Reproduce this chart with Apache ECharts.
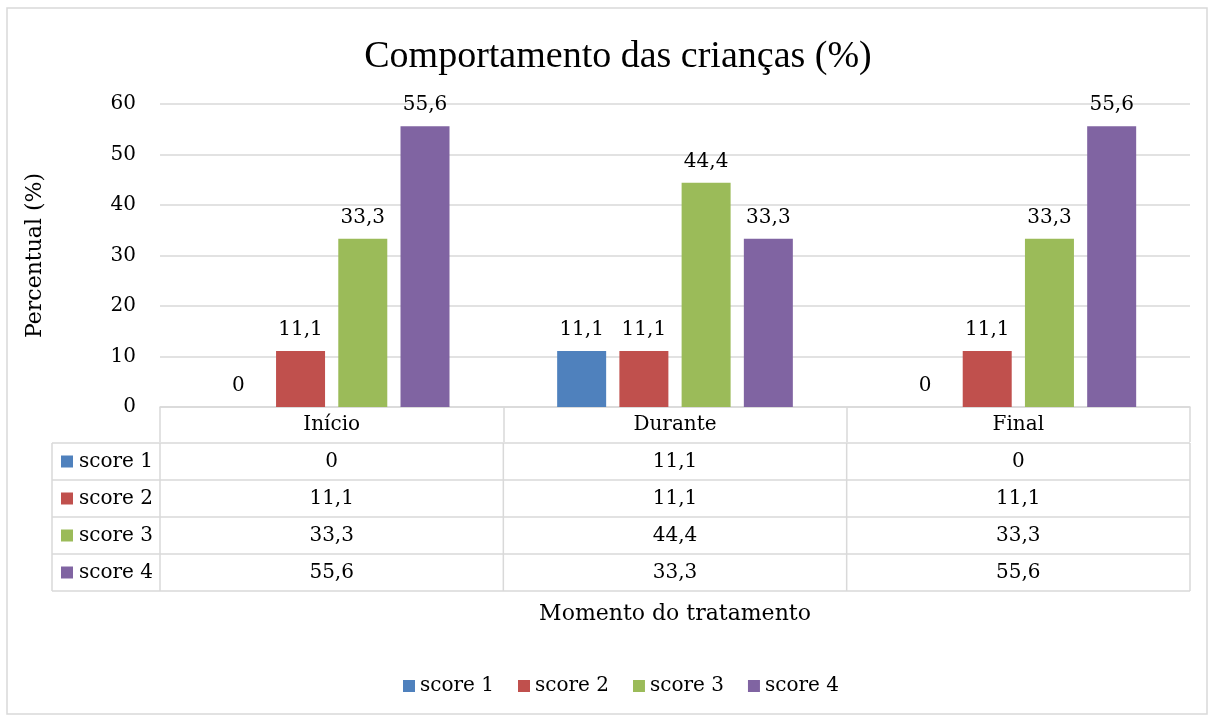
<!DOCTYPE html>
<html>
<head>
<meta charset="utf-8">
<script src="https://cdn.jsdelivr.net/npm/echarts@6/dist/echarts.min.js"></script>
<style>html,body{margin:0;padding:0;background:#fff}#c{width:1214px;height:715px}</style>
</head>
<body>
<div id="c"></div>
<script>
const categories = ['Início', 'Durante', 'Final'];
const seriesNames = ['score 1', 'score 2', 'score 3', 'score 4'];
const score1 = [0, 11.1, 0];
const score2 = [11.1, 11.1, 11.1];
const score3 = [33.3, 44.4, 33.3];
const score4 = [55.6, 33.3, 55.6];
const yTicks = [0, 10, 20, 30, 40, 50, 60];
const colors = ['#4f81bd', '#c0504d', '#9bbb59', '#8064a2'];

const seriesData = [score1, score2, score3, score4];
const FONT = 'DejaVu Serif';
const GRID = '#d9d9d9';
const fmt = v => String(v).replace('.', ',');

const chart = echarts.init(document.getElementById('c'), null, {renderer: 'canvas'});
const option = {
  animation: false,
  backgroundColor: '#fff',
  title: {
    text: 'Comportamento das crianças (%)',
    left: 613, top: 52, textAlign: 'center', textVerticalAlign: 'middle',
    textStyle: {fontFamily: 'Liberation Serif', fontSize: 38, fontWeight: 'normal', color: '#000'}
  },
  legend: {
    data: seriesNames, left: 398, top: 671,
    icon: 'rect', itemWidth: 12, itemHeight: 12, itemGap: 24,
    textStyle: {fontFamily: FONT, fontSize: 20, color: '#000'}
  },
  grid: {left: 160, right: 24, top: 104, bottom: 308},
  xAxis: {
    type: 'category', data: categories,
    name: 'Momento do tratamento', nameLocation: 'middle', nameGap: 207,
    nameTextStyle: {fontFamily: FONT, fontSize: 22, color: '#000', verticalAlign: 'middle'},
    axisLine: {lineStyle: {color: GRID, width: 1.5}},
    axisTick: {show: true, length: 35, lineStyle: {color: GRID, width: 1.5}},
    axisLabel: {fontFamily: FONT, fontSize: 20, color: '#000', margin: 18, verticalAlign: 'middle'}
  },
  yAxis: {
    type: 'value', min: yTicks[0], max: yTicks[yTicks.length - 1], interval: 10,
    name: 'Percentual (%)', nameLocation: 'middle', nameGap: 114,
    nameTextStyle: {fontFamily: FONT, fontSize: 22, color: '#000'},
    axisLine: {show: false}, axisTick: {show: false},
    axisLabel: {fontFamily: FONT, fontSize: 20, color: '#000', margin: 24},
    splitLine: {lineStyle: {color: GRID, width: 1.5}}
  },
  series: seriesNames.map((n, i) => ({
    name: n, type: 'bar', data: seriesData[i],
    barWidth: 49, barGap: '27%',
    itemStyle: {color: colors[i]},
    label: {show: true, position: 'top', distance: 11, fontFamily: FONT, fontSize: 20, color: '#000',
      formatter: p => fmt(p.value)}
  }))
};
chart.setOption(option);

// Data table under the axis, built from the same arrays
const centers = categories.map(c => chart.convertToPixel({xAxisIndex: 0}, c));
const band = centers[1] - centers[0];
const xLeft = centers[0] - band / 2;
const xRight = centers[centers.length - 1] + band / 2;
const base = chart.convertToPixel({yAxisIndex: 0}, 0);
const headerH = 36, rowH = 37, labelLeft = 52;
const rowsTop = base + headerH;
const tableBottom = rowsTop + rowH * seriesNames.length;
const els = [];
const line = (x1, y1, x2, y2) => els.push({type: 'line', shape: {x1, y1, x2, y2}, style: {stroke: GRID, lineWidth: 1.5}, silent: true});
for (let r = 0; r <= seriesNames.length; r++) line(labelLeft, rowsTop + r * rowH, xRight, rowsTop + r * rowH);
line(labelLeft, rowsTop, labelLeft, tableBottom);
for (let k = 0; k <= categories.length; k++) {
  const x = xLeft + k * band;
  line(x, rowsTop, x, tableBottom);
}
seriesNames.forEach((n, r) => {
  const cy = rowsTop + r * rowH + rowH / 2;
  els.push({type: 'rect', shape: {x: 61, y: cy - 6, width: 12, height: 12}, style: {fill: colors[r]}, silent: true});
  els.push({type: 'text', x: 79, y: cy, style: {text: n, font: '20px "' + FONT + '"', fill: '#000', verticalAlign: 'middle', align: 'left'}, silent: true});
  seriesData[r].forEach((v, c) => {
    els.push({type: 'text', x: centers[c], y: cy, style: {text: fmt(v), font: '20px "' + FONT + '"', fill: '#000', verticalAlign: 'middle', align: 'center'}, silent: true});
  });
});
// outer chart frame
els.push({type: 'rect', shape: {x: 7, y: 8, width: 1200, height: 706}, style: {fill: 'none', stroke: GRID, lineWidth: 1.5}, silent: true});
chart.setOption({graphic: {elements: els}});
</script>
</body>
</html>
